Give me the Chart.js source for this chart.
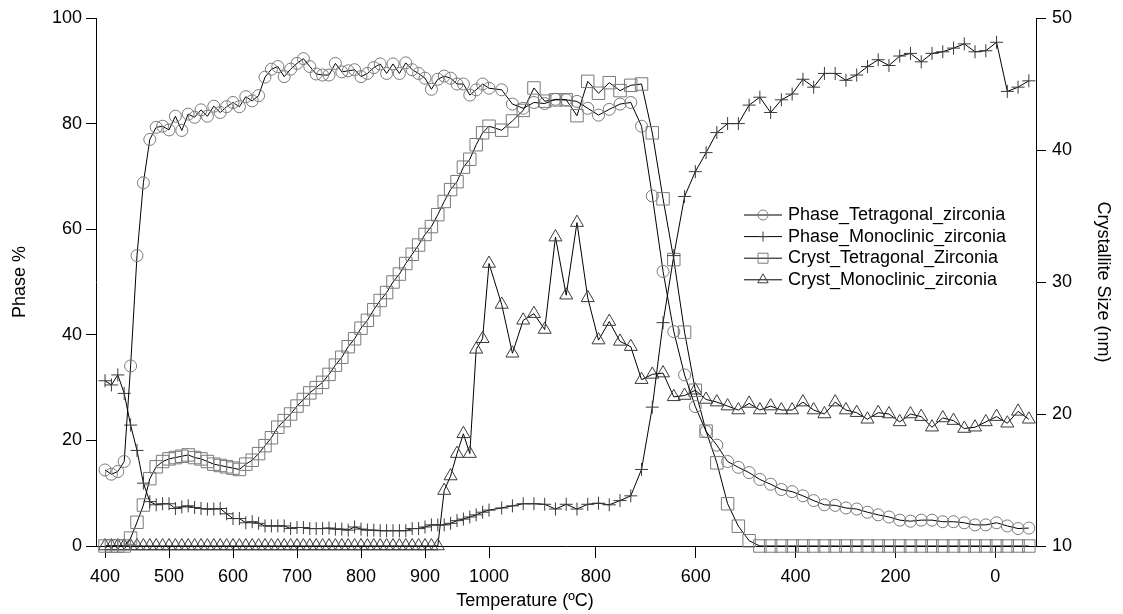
<!DOCTYPE html>
<html>
<head>
<meta charset="utf-8">
<title>Zirconia phases</title>
<script src="https://cdn.jsdelivr.net/npm/chart.js@4.4.1/dist/chart.umd.min.js"></script>
<style>
  html, body { margin: 0; padding: 0; background: #fff; }
  #wrap { width: 1123px; height: 614px; }
</style>
</head>
<body>
<div id="wrap"><canvas id="grafico" width="1123" height="614"></canvas></div>
<script>
// temperaturas do aquecimento (um ponto a cada 10 ºC, 10 ºC/min)
const heatTemp = [400, 410, 420, 430, 440, 450, 460, 470, 480, 490,
  500, 510, 520, 530, 540, 550, 560, 570, 580, 590,
  600, 610, 620, 630, 640, 650, 660, 670, 680, 690,
  700, 710, 720, 730, 740, 750, 760, 770, 780, 790,
  800, 810, 820, 830, 840, 850, 860, 870, 880, 890,
  900, 910, 920, 930, 940, 950, 960, 970, 980, 990,
  1000];
const heatRate = 10;      // ºC por minuto
const coolStart = 61.98;  // minuto do primeiro ponto do resfriamento
const coolStep = 1.681;   // minutos entre pontos do resfriamento

// eixo x: posição (min) e texto de cada marca
const tickTime = [0, 10, 20, 30, 40, 50, 60, 76.7, 92.3, 107.9, 123.5, 139.1];
const tickLabels = ['400', '500', '600', '700', '800', '900', '1000', '800', '600', '400', '200', '0'];

// Phase % (eixo esquerdo)
const phaseTetHeat = [14.4, 13.6, 14.1, 16.0, 34.1, 55.0, 68.8, 77.0, 79.3, 79.5,
  78.8, 81.4, 78.7, 81.8, 81.2, 82.6, 81.4, 83.3, 82.1, 83.2,
  84.0, 83.2, 85.1, 84.3, 85.3, 88.8, 90.3, 90.8, 88.9, 90.3,
  91.4, 92.3, 90.8, 89.4, 89.2, 89.2, 91.4, 89.8, 90.0, 90.2,
  88.9, 89.5, 90.6, 91.3, 89.5, 91.3, 89.5, 91.5, 90.2, 89.5,
  88.6, 86.5, 88.4, 89.0, 88.6, 87.5, 87.5, 85.4, 86.4, 87.5,
  86.7];
const phaseTetCool = [86.4, 83.7, 82.9, 84.0, 83.8, 84.6, 84.5, 84.2, 82.9, 81.6,
  82.7, 83.7, 84.0, 79.5, 66.3, 52.0, 40.6, 32.4, 26.4, 21.7,
  19.1, 16.0, 14.9, 13.9, 12.6, 11.7, 10.7, 10.3, 9.5, 8.6,
  7.8, 7.7, 7.2, 7.0, 6.4, 5.9, 5.5, 4.9, 4.7, 4.9,
  4.9, 4.6, 4.6, 4.4, 4.0, 4.0, 4.4, 3.8, 3.3, 3.4];

const phaseMonoHeat = [31.3, 30.5, 32.4, 28.9, 22.9, 18.1, 11.9, 8.4, 7.8, 8.0,
  8.0, 7.1, 7.4, 7.6, 7.3, 7.1, 7.0, 7.0, 7.1, 6.1,
  5.2, 5.2, 4.4, 4.6, 4.3, 3.8, 3.8, 3.8, 3.8, 3.3,
  3.5, 3.5, 3.3, 3.3, 3.3, 3.4, 3.2, 3.2, 3.0, 3.6,
  3.2, 3.0, 3.0, 2.9, 2.9, 2.9, 2.9, 2.9, 3.3, 3.3,
  3.6, 4.0, 4.0, 4.0, 4.3, 4.8, 5.1, 5.5, 5.9, 6.4,
  6.8];
const phaseMonoCool = [7.2, 7.6, 8.0, 8.0, 7.9, 7.0, 7.9, 7.0, 7.9, 8.1,
  7.8, 8.6, 9.5, 14.5, 26.3, 42.3, 55.0, 66.2, 70.9, 74.5,
  78.3, 80.0, 80.0, 83.5, 85.0, 82.1, 84.5, 85.6, 88.4, 86.9,
  89.5, 89.5, 88.2, 89.2, 90.8, 92.1, 91.0, 92.8, 93.3, 91.7,
  93.3, 93.6, 94.3, 95.1, 93.6, 93.8, 95.4, 86.1, 86.9, 88.1];

// Crystallite Size nm (eixo direito)
const crystTetHeat = [10, 10, 10, 10, 10.6, 11.8, 13.1, 15.1, 16.0, 16.4,
  16.6, 16.7, 16.8, 16.9, 16.7, 16.6, 16.4, 16.2, 16.1, 16.0,
  15.9, 15.8, 16.2, 16.5, 17.0, 17.6, 18.2, 19.0, 19.5, 20.0,
  20.6, 21.1, 21.6, 22.0, 22.4, 23.0, 23.7, 24.3, 25.1, 25.7,
  26.5, 27.1, 27.9, 28.6, 29.2, 30.0, 30.6, 31.4, 32.1, 32.8,
  33.6, 34.2, 35.1, 36.1, 37.0, 37.6, 38.7, 39.3, 40.4, 41.3,
  41.8];
const crystTetCool = [41.5, 42.2, 43.0, 44.7, 43.7, 43.8, 43.8, 42.6, 45.2, 44.3,
  45.1, 44.5, 44.9, 45.0, 41.3, 36.3, 31.7, 26.2, 21.8, 18.7,
  16.3, 13.2, 11.5, 10.4, 10, 10, 10, 10, 10, 10,
  10, 10, 10, 10, 10, 10, 10, 10, 10, 10,
  10, 10, 10, 10, 10, 10, 10, 10, 10, 10];

const crystMonoHeat = [10, 10, 10, 10, 10, 10, 10, 10, 10, 10,
  10, 10, 10, 10, 10, 10, 10, 10, 10, 10,
  10, 10, 10, 10, 10, 10, 10, 10, 10, 10,
  10, 10, 10, 10, 10, 10, 10, 10, 10, 10,
  10, 10, 10, 10, 10, 10, 10, 10, 10, 10,
  10, 10, 10, 14.2, 15.3, 17.0, 18.5, 17.0, 24.9, 25.7,
  31.4];
const crystMonoCool = [28.3, 24.6, 27.1, 27.6, 26.4, 33.4, 29.0, 34.5, 28.8, 25.6,
  27.0, 25.5, 25.1, 22.6, 23.0, 23.1, 21.3, 21.4, 21.8, 21.1,
  20.9, 20.6, 20.3, 20.8, 20.3, 20.6, 20.3, 20.3, 20.9, 20.3,
  20.0, 20.9, 20.3, 20.1, 19.6, 20.1, 20.0, 19.4, 20.0, 19.8,
  19.0, 19.7, 19.5, 18.9, 19.0, 19.4, 19.8, 19.3, 20.2, 19.6];

const fonte = '"Liberation Sans", Arial, sans-serif';
Chart.defaults.font.family = fonte;
Chart.defaults.font.size = 18;
Chart.defaults.color = '#000';

// junta aquecimento + resfriamento numa série só
function pontos(heat, cool) {
  const pts = heatTemp.map((t, i) => ({ x: (t - 400) / heatRate, y: heat[i] }));
  cool.forEach((v, i) => pts.push({ x: coolStart + i * coolStep, y: v }));
  return pts;
}

function serie(label, data, estilo, raio, cor, eixo) {
  return {
    label: label,
    data: data,
    yAxisID: eixo,
    borderColor: '#000',
    borderWidth: 1,
    pointStyle: estilo,
    pointRadius: raio,
    pointBorderColor: cor,
    pointBackgroundColor: 'rgba(0,0,0,0)',
    pointBorderWidth: 1,
    tension: 0,
    fill: false,
    clip: false
  };
}

function desenharMarcador(ctx, estilo, x, y, r, cor) {
  ctx.save();
  ctx.strokeStyle = cor;
  ctx.lineWidth = 1;
  ctx.beginPath();
  if (estilo === 'circle') {
    ctx.arc(x, y, r, 0, Math.PI * 2);
  } else if (estilo === 'rect') {
    ctx.rect(x - r, y - r, 2 * r, 2 * r);
  } else if (estilo === 'triangle') {
    ctx.moveTo(x, y - r * 1.2);
    ctx.lineTo(x + r * 1.04, y + r * 0.6);
    ctx.lineTo(x - r * 1.04, y + r * 0.6);
    ctx.closePath();
  } else {
    ctx.moveTo(x - r, y); ctx.lineTo(x + r, y);
    ctx.moveTo(x, y - r); ctx.lineTo(x, y + r);
  }
  ctx.stroke();
  ctx.restore();
}

// legenda dentro da área do gráfico + título do eixo x
const legendaInterna = {
  id: 'legendaInterna',
  afterDraw(chart) {
    const ctx = chart.ctx;
    const area = chart.chartArea;
    ctx.save();
    ctx.font = '18px ' + fonte;
    ctx.textBaseline = 'middle';
    chart.data.datasets.forEach((ds, i) => {
      const y = area.top + 197 + i * 21.6;
      const x0 = area.left + 648;
      ctx.strokeStyle = '#000';
      ctx.lineWidth = 1;
      ctx.beginPath();
      ctx.moveTo(x0, y);
      ctx.lineTo(x0 + 38, y);
      ctx.stroke();
      desenharMarcador(ctx, ds.pointStyle, x0 + 19, y, 5, ds.pointBorderColor);
      ctx.fillStyle = '#000';
      ctx.textAlign = 'left';
      ctx.fillText(ds.label, x0 + 44, y);
    });
    ctx.textAlign = 'center';
    ctx.fillText('Temperature (ºC)', area.left + 429, area.bottom + 55);
    ctx.restore();
  }
};

new Chart(document.getElementById('grafico'), {
  type: 'line',
  data: {
    datasets: [
      serie('Phase_Tetragonal_zirconia', pontos(phaseTetHeat, phaseTetCool), 'circle', 6, '#7a7a7a', 'y'),
      serie('Phase_Monoclinic_zirconia', pontos(phaseMonoHeat, phaseMonoCool), 'cross', 6.5, '#3a3a3a', 'y'),
      serie('Cryst_Tetragonal_Zirconia', pontos(crystTetHeat, crystTetCool), 'rect', 8.8, '#7a7a7a', 'y1'),
      serie('Cryst_Monoclinic_zirconia', pontos(crystMonoHeat, crystMonoCool), 'triangle', 7.5, '#3a3a3a', 'y1')
    ]
  },
  options: {
    responsive: false,
    animation: false,
    events: [],
    layout: { padding: { top: 18, left: 0, right: 0, bottom: 0 } },
    plugins: { legend: { display: false }, tooltip: { enabled: false } },
    scales: {
      x: {
        type: 'linear',
        min: -1.40625,
        max: 145.46875,
        afterBuildTicks: (s) => { s.ticks = tickTime.map(v => ({ value: v })); },
        afterFit: (s) => { s.height = 68; },
        ticks: { autoSkip: false, maxRotation: 0, padding: 8, callback: (v, i) => tickLabels[i] },
        grid: { drawOnChartArea: false, tickLength: 12, color: '#000' },
        border: { color: '#000' }
      },
      y: {
        position: 'left',
        min: 0,
        max: 100,
        afterFit: (s) => { s.width = 96; },
        ticks: { stepSize: 20, padding: 4 },
        grid: { drawOnChartArea: false, tickLength: 10, color: '#000' },
        border: { color: '#000' },
        title: { display: true, text: 'Phase %', padding: { top: 9, bottom: 0 } }
      },
      y1: {
        position: 'right',
        min: 10,
        max: 50,
        afterFit: (s) => { s.width = 87; },
        ticks: { stepSize: 10, padding: 6 },
        grid: { drawOnChartArea: false, tickLength: 10, color: '#000' },
        border: { color: '#000' },
        title: { display: true, text: 'Crystallite Size (nm)', padding: { top: 9, bottom: 0 } }
      }
    }
  },
  plugins: [legendaInterna]
});
</script>
</body>
</html>
